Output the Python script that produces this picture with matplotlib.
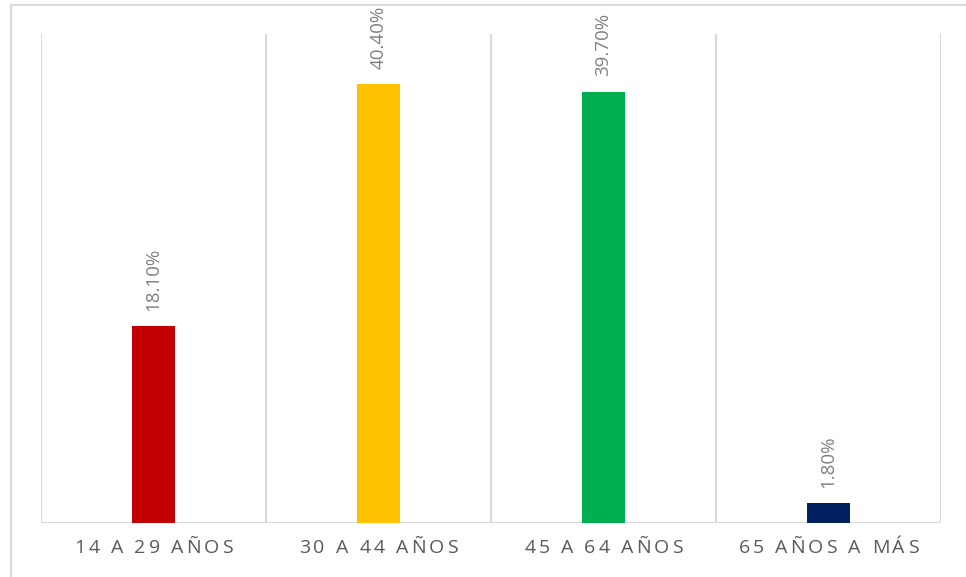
import matplotlib.pyplot as plt
import matplotlib.transforms as mtransforms
from matplotlib.font_manager import FontProperties
from matplotlib.lines import Line2D

plt.rcParams['font.family'] = ['Open Sans', 'DejaVu Sans']

grupos = ['14 A 29 AÑOS', '30 A 44 AÑOS', '45 A 64 AÑOS', '65 AÑOS A MÁS']
porcentajes = [18.10, 40.40, 39.70, 1.80]
colores = ['#C00000', '#FFC000', '#00B050', '#002060']

fig = plt.figure(figsize=(9.66, 5.77), dpi=100)
ax = fig.add_axes([41 / 966, 54 / 577, 900 / 966, 489 / 577])

x = list(range(len(grupos)))
ax.bar(x, porcentajes, width=0.187, color=colores, zorder=3)

# etiquetas de valor, verticales sobre cada barra
for i, v in enumerate(porcentajes):
    ax.annotate(f'{v:.2f}%', (i, v), xytext=(0, 11), textcoords='offset points',
                rotation=90, ha='center', va='bottom', color='#808080', fontsize=13.5)

# separadores verticales entre categorías
for xs in [-0.5, 0.5, 1.5, 2.5, 3.5]:
    ax.axvline(xs, color='#D9D9D9', linewidth=1.5, zorder=1)
ax.axhline(0, color='#D9D9D9', linewidth=1.5, zorder=2)

ax.set_xlim(-0.5, 3.5)
ax.set_ylim(0, 45)
ax.set_xticks([])
ax.set_yticks([])
for s in ax.spines.values():
    s.set_visible(False)

# nombres de categoría con espaciado entre letras
prop = FontProperties(family=['Open Sans', 'DejaVu Sans'], size=14)
renderer = fig.canvas.get_renderer()
espacio = 3.0  # px
base = mtransforms.blended_transform_factory(ax.transData, ax.transAxes)
for i, etiqueta in enumerate(grupos):
    anchos = [renderer.get_text_width_height_descent(etiqueta[:k], prop, ismath=False)[0]
              if k else 0 for k in range(len(etiqueta) + 1)]
    total = anchos[-1] + espacio * (len(etiqueta) - 1)
    for k, ch in enumerate(etiqueta):
        dx = (-total / 2 + anchos[k] + k * espacio) / fig.dpi
        tr = base + mtransforms.ScaledTranslation(dx, -16 / fig.dpi, fig.dpi_scale_trans)
        ax.text(i, 0, ch, transform=tr, ha='left', va='top',
                fontproperties=prop, color='#595959')

# marco del gráfico
fig.add_artist(Line2D([11 / 966, 1], [1 - 5 / 577, 1 - 5 / 577], color='#D9D9D9', linewidth=1.5))
fig.add_artist(Line2D([11 / 966, 11 / 966], [0, 1 - 5 / 577], color='#D9D9D9', linewidth=1.5))

plt.savefig('out.png')
